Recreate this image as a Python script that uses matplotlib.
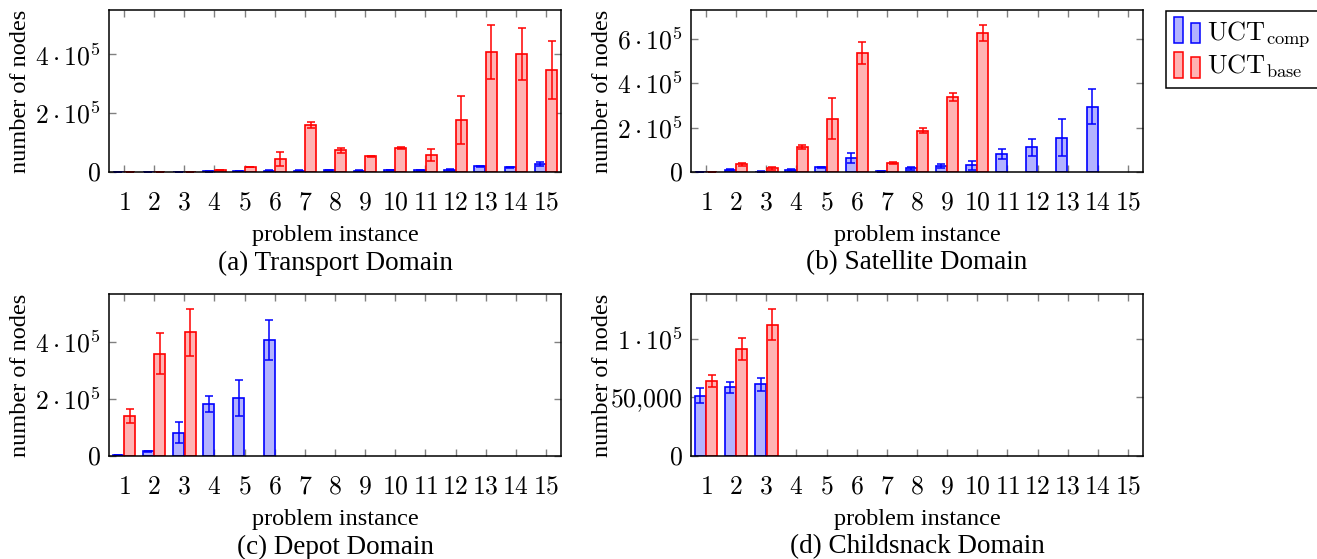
import numpy as np
import matplotlib
matplotlib.use('Agg')
import matplotlib.pyplot as plt
from matplotlib.patches import Rectangle, Patch
from matplotlib.legend_handler import HandlerBase

plt.rcParams['font.family'] = ['Liberation Serif', 'DejaVu Serif']
plt.rcParams['mathtext.fontset'] = 'cm'

instances = list(range(1, 16))

# (a) Transport
transport_comp = [1000, 1200, 1300, 2000, 2500, 4500, 4500, 5700, 4500, 6800, 5700, 8000, 20000, 16000, 27000]
transport_comp_err = [300, 300, 300, 400, 500, 800, 800, 900, 800, 1000, 900, 1200, 2000, 1500, 6000]
transport_base = [600, 700, 900, 6800, 17000, 45000, 159000, 74000, 53000, 82000, 57000, 177000, 409000, 402000, 347000]
transport_base_err = [100, 100, 100, 1000, 1500, 24000, 10000, 9000, 3000, 3000, 20000, 82000, 92000, 89000, 98000]

# (b) Satellite
satellite_comp = [1000, 10000, 2000, 9000, 22000, 64000, 3000, 16500, 28000, 30000, 82000, 111000, 154000, 294000]
satellite_comp_err = [300, 2000, 500, 3000, 2000, 22000, 800, 8000, 8000, 19000, 22000, 38000, 83000, 79000]
satellite_base = [1000, 34500, 16500, 112000, 241000, 537000, 39000, 186000, 337000, 627000]
satellite_base_err = [300, 8000, 7000, 9000, 94000, 49000, 5000, 12000, 19000, 37000]

# (c) Depot
depot_comp = [2500, 16000, 82000, 182000, 202000, 407000]
depot_comp_err = [500, 3000, 38000, 29000, 63000, 71000]
depot_base = [140000, 359000, 433000]
depot_base_err = [26000, 73000, 83000]

# (d) Childsnack
childsnack_comp = [51300, 58700, 61000]
childsnack_comp_err = [6300, 4600, 5400]
childsnack_base = [63500, 91000, 112000]
childsnack_base_err = [5100, 9300, 13500]

panels = [
    ('(a) Transport Domain', transport_comp, transport_comp_err, transport_base, transport_base_err,
     [0, 200000, 400000], [r'$0$', r'$2\cdot10^{5}$', r'$4\cdot10^{5}$']),
    ('(b) Satellite Domain', satellite_comp, satellite_comp_err, satellite_base, satellite_base_err,
     [0, 200000, 400000, 600000], [r'$0$', r'$2\cdot10^{5}$', r'$4\cdot10^{5}$', r'$6\cdot10^{5}$']),
    ('(c) Depot Domain', depot_comp, depot_comp_err, depot_base, depot_base_err,
     [0, 200000, 400000], [r'$0$', r'$2\cdot10^{5}$', r'$4\cdot10^{5}$']),
    ('(d) Childsnack Domain', childsnack_comp, childsnack_comp_err, childsnack_base, childsnack_base_err,
     [0, 50000, 100000], [r'$0$', r'$50{,}000$', r'$1\cdot10^{5}$']),
]

W, H = 1317, 559
fig = plt.figure(figsize=(W / 100, H / 100), dpi=100)

# axes boxes in pixels: left, top
boxes = [(109, 10), (691, 10), (109, 294), (691, 294)]
aw, ah = 452, 162

blue_fill, blue_edge = '#b3b3ff', '#0000ff'
red_fill, red_edge = '#ffb3b3', '#ff0000'
bw, shift = 0.365, 0.19

for (title, comp, comp_err, base, base_err, yt, ytl), (l, t) in zip(panels, boxes):
    ax = fig.add_axes([l / W, 1 - (t + ah) / H, aw / W, ah / H])
    xc = np.arange(1, len(comp) + 1) - shift
    xb = np.arange(1, len(base) + 1) + shift
    ax.bar(xc, comp, bw, color=blue_fill, edgecolor=blue_edge, linewidth=1.2, zorder=2)
    ax.bar(xb, base, bw, color=red_fill, edgecolor=red_edge, linewidth=1.2, zorder=2)
    ax.errorbar(xc, comp, yerr=comp_err, fmt='none', ecolor=blue_edge, elinewidth=1.1,
                capsize=3, capthick=1.1, zorder=3)
    ax.errorbar(xb, base, yerr=base_err, fmt='none', ecolor=red_edge, elinewidth=1.1,
                capsize=3, capthick=1.1, zorder=3)
    top = max(max(np.add(comp, comp_err)), max(np.add(base, base_err)))
    ax.set_ylim(0, top * 1.1)
    ax.set_xlim(0.5, 15.5)
    ax.set_xticks(instances)
    ax.set_xticklabels([r'$%d$' % i for i in instances])
    ax.set_yticks(yt)
    ax.set_yticklabels(ytl)
    ax.tick_params(axis='both', direction='in', length=5, width=1, color='gray',
                   labelsize=18.5, top=True, right=True)
    ax.tick_params(axis='x', pad=15)
    ax.tick_params(axis='y', pad=6)
    for s in ax.spines.values():
        s.set_linewidth(1.1)
        s.set_zorder(4)
    ax.set_ylabel('number of nodes', fontsize=17.5)
    ax.yaxis.set_label_coords(-78 / aw, 0.5)
    ax.set_xlabel('problem instance', fontsize=17.5)
    ax.xaxis.set_label_coords(0.5, -0.325)
    fig.text((l + aw / 2) / W, 1 - (t + ah + 91) / H, title, fontsize=19.5,
             ha='center', va='center')


class TwoBars(HandlerBase):
    def create_artists(self, legend, orig_handle, xdescent, ydescent, width, height,
                       fontsize, trans):
        fc = orig_handle.get_facecolor()
        ec = orig_handle.get_edgecolor()
        w = width * 0.36
        r1 = Rectangle((-xdescent, -ydescent - height * 0.2), w, height * 1.4,
                       facecolor=fc, edgecolor=ec, linewidth=1.1, transform=trans)
        r2 = Rectangle((-xdescent + width - w, -ydescent - height * 0.2), w, height * 1.1,
                       facecolor=fc, edgecolor=ec, linewidth=1.1, transform=trans)
        return [r1, r2]


handles = [Patch(facecolor=blue_fill, edgecolor=blue_edge), Patch(facecolor=red_fill, edgecolor=red_edge)]
labels = [r'$\mathrm{UCT}_{\mathrm{comp}}$', r'$\mathrm{UCT}_{\mathrm{base}}$']
leg = fig.legend(handles, labels, loc='upper left', bbox_to_anchor=(1166 / W, 1 - 11 / H),
                 handler_map={Patch: TwoBars()}, fontsize=19, frameon=True, fancybox=False,
                 edgecolor='black', framealpha=1, handlelength=1.0, handletextpad=0.25,
                 borderpad=0.3, borderaxespad=0, labelspacing=0.15)
leg.get_frame().set_linewidth(1.1)

fig.savefig('out.png', dpi=100)
